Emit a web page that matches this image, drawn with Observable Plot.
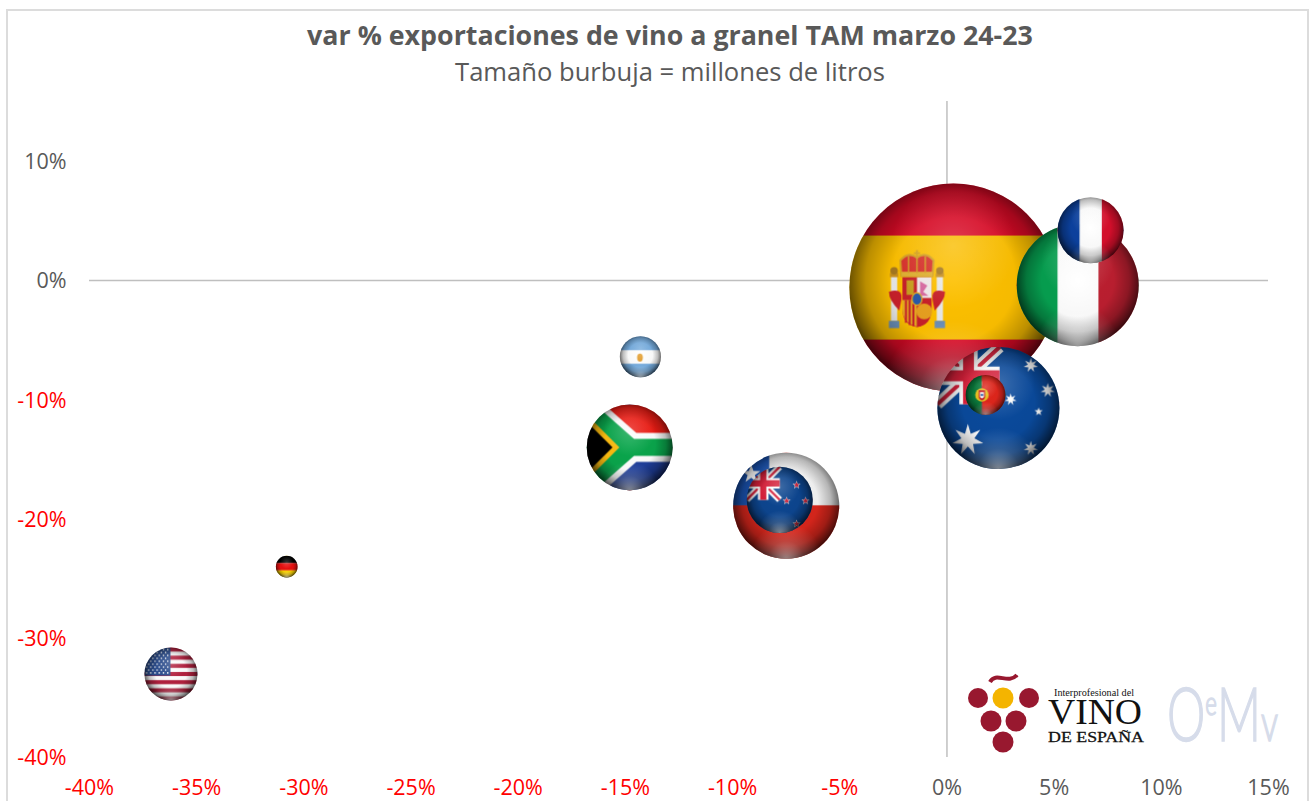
<!DOCTYPE html>
<html lang="es">
<head>
<meta charset="utf-8">
<title>var % exportaciones de vino a granel</title>
<script src="https://cdn.jsdelivr.net/npm/d3@7"></script>
<script src="https://cdn.jsdelivr.net/npm/@observablehq/plot@0.6"></script>
<style>
html,body{margin:0;padding:0;background:#fff;}
#wrap{position:relative;width:1309px;height:801px;overflow:hidden;background:#fff;}
#frame{position:absolute;left:6px;top:9px;width:1303px;height:800px;border:2px solid #dcdcdc;box-sizing:border-box;}
#head{position:relative;height:90px;text-align:center;color:#595959;width:1340px;}
#title{position:absolute;left:0;width:1340px;top:18px;font:700 26.8px/34px "Open Sans",sans-serif;}
#subtitle{position:absolute;left:0;width:1340px;top:56px;font:400 25.6px/32px "Open Sans",sans-serif;}
#chart{position:relative;}
#chart svg{display:block;overflow:visible;}
#logo{position:absolute;left:0;top:0;pointer-events:none;}
#defs{position:absolute;width:0;height:0;}
</style>
</head>
<body>
<div id="wrap">
  <div id="frame"></div>
  <svg id="defs" aria-hidden="true"></svg>
  <div id="head">
    <div id="title">var % exportaciones de vino a granel TAM marzo 24-23</div>
    <div id="subtitle">Tamaño burbuja = millones de litros</div>
  </div>
  <div id="chart"></div>
  <svg id="logo" width="1309" height="801">
    <path d="M990 682 C996 671 1008 685 1017 675" fill="none" stroke="#98182f" stroke-width="4"/>
    <g fill="#98182f">
      <circle cx="978" cy="698" r="10"/><circle cx="1029" cy="698" r="10"/>
      <circle cx="991" cy="721" r="10.5"/><circle cx="1016" cy="721" r="10.5"/>
      <circle cx="1003" cy="742" r="10.5"/>
    </g>
    <circle cx="1003" cy="698" r="10.5" fill="#f4b400"/>
    <g font-family="'Liberation Serif',serif" fill="#111">
      <text x="1054" y="696" font-size="9.5" textLength="80" lengthAdjust="spacingAndGlyphs">Interprofesional del</text>
      <text x="1048" y="724" font-size="35" textLength="94" lengthAdjust="spacingAndGlyphs">VINO</text>
      <text x="1048" y="742" font-size="15.5" textLength="96" lengthAdjust="spacingAndGlyphs" stroke="#111" stroke-width=".3">DE ESPAÑA</text>
    </g>
    <text x="1167" y="741" font-family="Lato,sans-serif" font-weight="300" fill="#d6dcea" stroke="#d6dcea" stroke-width="1.6" textLength="111" lengthAdjust="spacingAndGlyphs"><tspan font-size="74">O</tspan><tspan font-size="34" dy="-26">e</tspan><tspan font-size="74" dy="26">M</tspan><tspan font-size="52">v</tspan></text>
  </svg>
</div>
<script>
// ---- data ----
const countries = ["Spain","Italy","France","Australia","Portugal","Argentina","SouthAfrica","Chile","NewZealand","Germany","USA"];
const varVolumen = [0.3, 6.1, 6.7, 2.4, 1.8, -14.3, -14.8, -7.5, -7.8, -30.8, -36.2];   // x, %
const varValor   = [-0.6, -0.4, 4.2, -10.7, -9.6, -6.4, -14.0, -18.9, -18.4, -24.0, -33.0]; // y, %
const millones   = [1200, 413, 121, 413, 44, 47, 205, 312, 121, 13, 78];                // bubble size

const xTicksNeg = [-40,-35,-30,-25,-20,-15,-10,-5];
const xTicksPos = [0,5,10,15];
const yTicksNeg = [-40,-30,-20,-10];
const yTicksPos = [0,10];

// ---- flag art, used as pattern fills of the dots ----
function star(cx,cy,R,n,ratio,fill){
  let p=[];
  for(let i=0;i<2*n;i++){
    const r=i%2?R*ratio:R, a=-Math.PI/2+i*Math.PI/n;
    p.push((cx+r*Math.cos(a)).toFixed(2)+","+(cy+r*Math.sin(a)).toFixed(2));
  }
  return `<polygon points="${p.join(" ")}" fill="${fill}"/>`;
}
function jack(w,h){ // union jack in a w x h canton
  return `<g>
   <path d="M0 0L${w} ${h}M${w} 0L0 ${h}" stroke="#fff" stroke-width="${h*.2}"/>
   <path d="M0 0L${w} ${h}M${w} 0L0 ${h}" stroke="#d8203a" stroke-width="${h*.07}"/>
   <path d="M${w/2} 0V${h}M0 ${h/2}H${w}" stroke="#fff" stroke-width="${h*.32}"/>
   <path d="M${w/2} 0V${h}M0 ${h/2}H${w}" stroke="#d8203a" stroke-width="${h*.19}"/></g>`;
}
function usa(){
  let s=`<rect width="100" height="100" fill="#fff"/>`;
  for(let i=0;i<13;i+=2) s+=`<rect y="${i*100/13}" width="100" height="${100/13}" fill="#b3213f"/>`;
  s+=`<rect width="49" height="53" fill="#2b4d8e"/>`;
  for(let r=0;r<9;r++) for(let c=0;c<(r%2?5:6);c++)
    s+=`<circle cx="${(r%2?8:4)+c*8}" cy="${4+r*5.5}" r="1.5" fill="#fff"/>`;
  return s;
}
const flags = {
  Spain:`<rect width="100" height="100" fill="#dc0a26"/><rect y="25" width="100" height="50" fill="#fdc000"/>
    <g>
      <rect x="20" y="44" width="3" height="22" fill="#e8e8e8"/><rect x="42" y="44" width="3" height="22" fill="#e8e8e8"/>
      <rect x="19" y="66" width="5" height="3.5" fill="#6a8fb8"/><rect x="41" y="66" width="5" height="3.5" fill="#6a8fb8"/>
      <rect x="19.5" y="43" width="4" height="2" fill="#c89020"/><rect x="41.5" y="43" width="4" height="2" fill="#c89020"/>
      <circle cx="21.5" cy="42" r="1.8" fill="#a67820"/><circle cx="43.5" cy="42" r="1.8" fill="#a67820"/>
      <path d="M19 52Q26 50 25 56L24 61Q19 56 19 52Z" fill="#c8202a"/><path d="M46 52Q39 50 40 56L41 61Q46 56 46 52Z" fill="#c8202a"/>
      <path d="M25.5 45H39.5V60Q39.5 68 32.5 69Q25.5 68 25.5 60Z" fill="#c8202a"/>
      <rect x="32.5" y="45" width="7" height="10" fill="#f0e8e8"/>
      <path d="M34 47L37.5 49L35.5 52L38 54H34Z" fill="#d86aa0"/>
      <rect x="27.5" y="46.5" width="3.5" height="7" fill="#c9a020"/>
      <path d="M25.5 56H32.5V68.8Q25.5 67 25.5 60Z" fill="#e8b020"/>
      <path d="M27.2 56V67M29 56V68M30.8 56V68.5" stroke="#c8202a" stroke-width="1"/>
      <path d="M32.5 56H39.5V60Q39.5 68 32.5 69Z" fill="#c8202a"/>
      <circle cx="36" cy="61.5" r="3.8" fill="#e8a020"/>
      <ellipse cx="32.5" cy="55.5" rx="2.4" ry="3" fill="#2a5aa8" stroke="#e8b020" stroke-width=".6"/>
      <path d="M25 44.5L24.5 37Q28 32.5 32.5 35.5Q37 32.5 40.5 37L40 44.5Z" fill="#d8302a" stroke="#d4a020" stroke-width="1"/>
      <path d="M25 43.5H40" stroke="#e0b030" stroke-width="2.2"/>
      <path d="M28.5 35V43M36.5 35V43M32.5 35V43" stroke="#d4a020" stroke-width=".7"/>
      <path d="M32.5 36V32M31 33.5H34" stroke="#d4a020" stroke-width=".9"/>
    </g>`,
  Italy:`<rect width="34" height="100" fill="#06a050"/><rect x="33.5" width="34" height="100" fill="#fff"/><rect x="67" width="33" height="100" fill="#bd1f30"/>`,
  France:`<rect width="34" height="100" fill="#0c42a0"/><rect x="33.5" width="34" height="100" fill="#fff"/><rect x="67" width="33" height="100" fill="#d80f2c"/>`,
  Australia:`<rect width="100" height="100" fill="#0a4a9c"/>${jack(51,47)}`
    +star(25,76,13,7,.42,"#fff")+star(76.6,15,6,7,.42,"#fff")+star(90.5,35.5,6,7,.42,"#fff")
    +star(83,53,3.5,5,.42,"#fff")+star(76.6,83,6,7,.42,"#fff")+star(60,43,5,7,.42,"#fff"),
  Portugal:`<rect width="41" height="100" fill="#0a7a3c"/><rect x="41" width="59" height="100" fill="#e0261c"/>
    <circle cx="41" cy="50" r="17" fill="#e8c020"/><path d="M33 38H49V54Q49 62 41 64Q33 62 33 54Z" fill="#c8202a"/><path d="M36 43H46V53Q46 58 41 59Q36 58 36 53Z" fill="#f4f4f4"/><circle cx="41" cy="50" r="3" fill="#2a5aa8"/>`,
  Argentina:`<rect width="100" height="100" fill="#74acdf"/><rect y="34" width="100" height="33" fill="#fff"/><ellipse cx="49" cy="52" rx="7" ry="10" fill="#e5a33a"/>`,
  SouthAfrica:`<rect width="100" height="50" fill="#ee1c14"/><rect y="50" width="100" height="50" fill="#1f3f9c"/>
    <path d="M-10 -4L51 50L110 50M-10 104L51 50" fill="none" stroke="#fff" stroke-width="34"/>
    <path d="M-10 -4L51 50L110 50M-10 104L51 50" fill="none" stroke="#0aa64c" stroke-width="20"/>
    <polygon points="0,12 38,50 0,88" fill="#fcbc10"/><polygon points="0,20 30,50 0,80" fill="#000"/>`,
  Chile:`<rect width="100" height="100" fill="#f4f4f4"/><rect y="49.5" width="100" height="51" fill="#d8261c"/><rect width="34" height="49.5" fill="#1a54b4"/>`+star(17,20,9,5,.4,"#fff"),
  NewZealand:`<rect width="100" height="100" fill="#0d4690"/>${jack(50,50)}`
    +[[75.5,27.5],[60.5,51.5],[89,51.5],[75.5,86.5]].map(([x,y])=>star(x,y,6.5,5,.42,"#e8e8e8")+star(x,y,4.8,5,.42,"#d0203a")).join(""),
  Germany:`<rect width="100" height="34" fill="#000"/><rect y="33.5" width="100" height="34" fill="#e81010"/><rect y="67" width="100" height="33" fill="#fcd400"/>`,
  USA:usa()
};
document.getElementById("defs").innerHTML = Object.entries(flags).map(([k,v])=>
  `<pattern id="flag-${k}" patternUnits="objectBoundingBox" x="0" y="0" width="1" height="1" viewBox="0 0 100 100" preserveAspectRatio="none">${v}</pattern>`
).join("")+`
  <radialGradient id="rim" cx=".5" cy=".46" r=".54">
    <stop offset="0" stop-color="#000" stop-opacity="0"/>
    <stop offset=".55" stop-color="#000" stop-opacity=".03"/>
    <stop offset=".78" stop-color="#000" stop-opacity=".26"/>
    <stop offset=".92" stop-color="#000" stop-opacity=".56"/>
    <stop offset="1" stop-color="#000" stop-opacity=".78"/>
  </radialGradient>
  <radialGradient id="gloss" cx=".5" cy=".3" r=".3">
    <stop offset="0" stop-color="#fff" stop-opacity=".2"/>
    <stop offset="1" stop-color="#fff" stop-opacity="0"/>
  </radialGradient>
  <radialGradient id="bounce" cx=".5" cy="1" r=".34">
    <stop offset="0" stop-color="#fff" stop-opacity=".48"/>
    <stop offset=".5" stop-color="#fff" stop-opacity=".16"/>
    <stop offset="1" stop-color="#fff" stop-opacity="0"/>
  </radialGradient>`;

// ---- table for the marks: flag, shadow, gloss, bottom glow, in paint order ----
const rows = countries.map((c,i)=>({c, x:varVolumen[i], y:varValor[i], size:millones[i]}));
const layers = rows.flatMap(d=>[
  {...d, paint:`url(#flag-${d.c})`},
  {...d, paint:"url(#rim)"},
  {...d, paint:"url(#gloss)"},
  {...d, paint:"url(#bounce)"}
]);

const gray="#595959", red="#ff0000", pct=d=>d+"%";
const tickFont={fontSize:21.5, fontFamily:"'Open Sans',sans-serif", tickSize:0, label:null, tickFormat:pct};

const plot = Plot.plot({
  width:1309, height:711,
  marginTop:11, marginBottom:44, marginLeft:89, marginRight:41,
  style:{background:"transparent"},
  x:{domain:[-40,15]},
  y:{domain:[-40,15]},
  r:{type:"sqrt", domain:[0,1200], range:[0,104]},
  color:{type:"identity"},
  marks:[
    Plot.ruleX([0],{stroke:"#bfbfbf",strokeWidth:1.5}),
    Plot.ruleY([0],{stroke:"#bfbfbf",strokeWidth:1.5}),
    Plot.axisX(xTicksNeg,{...tickFont,tickPadding:22,fill:red}),
    Plot.axisX(xTicksPos,{...tickFont,tickPadding:22,fill:gray}),
    Plot.axisY(yTicksNeg,{...tickFont,tickPadding:23,dy:1,fill:red}),
    Plot.axisY(yTicksPos,{...tickFont,tickPadding:23,dy:1,fill:gray}),
    Plot.dot(layers,{x:"x",y:"y",r:"size",fill:"paint",sort:null,stroke:null})
  ]
});
document.getElementById("chart").appendChild(plot);
</script>
</body>
</html>
